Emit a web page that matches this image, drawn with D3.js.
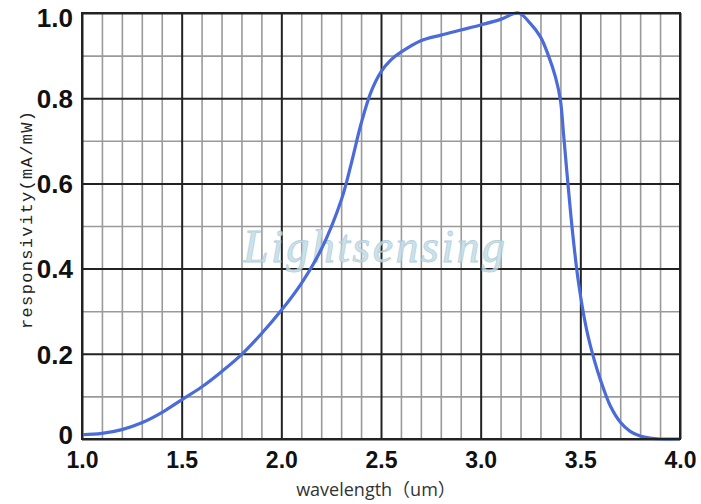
<!DOCTYPE html>
<html>
<head>
<meta charset="utf-8">
<script src="https://cdn.jsdelivr.net/npm/d3@7"></script>
<style>
  body { margin: 0; background: #fff; }
  svg { display: block; }
</style>
</head>
<body>
<div id="draw_chart"></div>
<script>
// wavelength (um) and responsivity (mA/mW)
var wavelength = [1.0, 1.1, 1.2, 1.3, 1.4, 1.5, 1.6, 1.7, 1.8, 1.9, 2.0, 2.1, 2.2, 2.3, 2.35, 2.4, 2.45, 2.5, 2.55, 2.6, 2.7, 2.8, 2.9, 3.0, 3.1, 3.19, 3.25, 3.3, 3.34, 3.375, 3.4, 3.415, 3.43, 3.46, 3.49, 3.53, 3.57, 3.6, 3.65, 3.7, 3.75, 3.8, 3.85, 3.9, 4.0];
var responsivity = [0.01, 0.013, 0.022, 0.038, 0.062, 0.092, 0.122, 0.158, 0.198, 0.247, 0.302, 0.365, 0.445, 0.56, 0.645, 0.74, 0.815, 0.862, 0.89, 0.908, 0.935, 0.948, 0.96, 0.972, 0.985, 1.0, 0.975, 0.944, 0.9, 0.85, 0.796, 0.72, 0.64, 0.49, 0.37, 0.26, 0.185, 0.14, 0.078, 0.04, 0.018, 0.007, 0.002, 0, 0];
// tick labels
var xTickValues = [1.0, 1.5, 2.0, 2.5, 3.0, 3.5, 4.0];
var xTickLabels = ["1.0", "1.5", "2.0", "2.5", "3.0", "3.5", "4.0"];
var yTickValues = [0, 0.2, 0.4, 0.6, 0.8, 1.0];
var yTickLabels = ["0", "0.2", "0.4", "0.6", "0.8", "1.0"];

var width = 701;
var height = 504;
// plot box
var boxLeft = 82, boxRight = 680, boxTop = 13, boxBottom = 439;

var svg = d3.select("#draw_chart").append("svg")
  .attr("width", width).attr("height", height);

var xScale = d3.scaleLinear().domain([1, 4]).range([boxLeft, boxRight]);
var yScale = d3.scaleLinear().domain([0, 1]).range([boxBottom, boxTop]);

// minor grid every 0.1
var minorX = d3.range(11, 40).map(function(d) { return d / 10; })
  .filter(function(d) { return Math.round(d * 10) % 5 != 0; });
var minorY = [0.1, 0.3, 0.5, 0.7, 0.9];

svg.append("g").call(d3.axisBottom(xScale).tickValues(minorX).tickSize(-(boxBottom - boxTop)).tickFormat(""))
  .attr("transform", "translate(0," + boxBottom + ")")
  .call(function(g) { g.select(".domain").remove(); })
  .selectAll("line").attr("stroke", "#9a9a9a").attr("stroke-width", 1.6);
svg.append("g").call(d3.axisLeft(yScale).tickValues(minorY).tickSize(-(boxRight - boxLeft)).tickFormat(""))
  .attr("transform", "translate(" + boxLeft + ",0)")
  .call(function(g) { g.select(".domain").remove(); })
  .selectAll("line").attr("stroke", "#9a9a9a").attr("stroke-width", 1.6);

// major grid
svg.append("g").call(d3.axisBottom(xScale).tickValues(xTickValues).tickSize(-(boxBottom - boxTop)).tickFormat(""))
  .attr("transform", "translate(0," + boxBottom + ")")
  .call(function(g) { g.select(".domain").remove(); })
  .selectAll("line").attr("stroke", "#222").attr("stroke-width", 2);
svg.append("g").call(d3.axisLeft(yScale).tickValues(yTickValues).tickSize(-(boxRight - boxLeft)).tickFormat(""))
  .attr("transform", "translate(" + boxLeft + ",0)")
  .call(function(g) { g.select(".domain").remove(); })
  .selectAll("line").attr("stroke", "#222").attr("stroke-width", 2);

// watermark
svg.append("text")
  .attr("x", 243).attr("y", 262)
  .attr("textLength", 262)
  .style("font-family", "'Liberation Serif', serif")
  .style("font-style", "italic")
  .style("font-size", "46px")
  .style("fill", "#c4dde8")
  .style("stroke", "#a9c9d6").style("stroke-width", 0.8)
  .style("opacity", 0.85)
  .text("Lightsensing");

// the curve
var pts = wavelength.map(function(w, i) { return [w, responsivity[i]]; });
var line = d3.line()
  .x(function(d) { return xScale(d[0]); })
  .y(function(d) { return yScale(d[1]); })
  .curve(d3.curveCatmullRom.alpha(0.5));
svg.append("path").datum(pts)
  .attr("d", line)
  .attr("fill", "none")
  .attr("stroke", "#4a6bd8")
  .attr("stroke-width", 3.2)
  .attr("stroke-linejoin", "round");

// tick labels
var xAxis = svg.append("g").attr("transform", "translate(0," + boxBottom + ")")
  .call(d3.axisBottom(xScale).tickValues(xTickValues).tickSize(0)
    .tickFormat(function(d, i) { return xTickLabels[i]; }));
xAxis.select(".domain").remove();
xAxis.selectAll("text")
  .attr("y", 29).attr("dy", 0)
  .style("font-family", "'Liberation Sans', Arial, sans-serif")
  .style("font-weight", "bold").style("font-size", "23px").style("fill", "#111");

var yAxis = svg.append("g").attr("transform", "translate(" + boxLeft + ",0)")
  .call(d3.axisLeft(yScale).tickValues(yTickValues).tickSize(0)
    .tickFormat(function(d, i) { return yTickLabels[i]; }));
yAxis.select(".domain").remove();
yAxis.selectAll("text")
  .attr("x", -9)
  .attr("dy", function(d) { return d == 1 ? "0.5em" : (d == 0 ? "0.18em" : "0.36em"); })
  .style("font-family", "'Liberation Sans', Arial, sans-serif")
  .style("font-weight", "bold").style("font-size", "26px").style("fill", "#111");

// plot border
svg.append("rect")
  .attr("x", boxLeft).attr("y", boxTop)
  .attr("width", boxRight - boxLeft).attr("height", boxBottom - boxTop)
  .attr("fill", "none").attr("stroke", "#222").attr("stroke-width", 2);

// axis titles
svg.append("text")
  .attr("x", 376).attr("y", 496)
  .attr("text-anchor", "middle")
  .style("font-family", "'Open Sans', 'Noto Sans CJK SC', sans-serif")
  .style("font-size", "18px").style("fill", "#333")
  .text("wavelength（um）");

svg.append("text")
  .attr("transform", "translate(32,220)rotate(-90)")
  .attr("text-anchor", "middle")
  .attr("textLength", 218)
  .style("font-family", "'Liberation Mono', monospace")
  .style("font-size", "17px").style("fill", "#222")
  .text("responsivity(mA/mW)");
</script>
</body>
</html>
